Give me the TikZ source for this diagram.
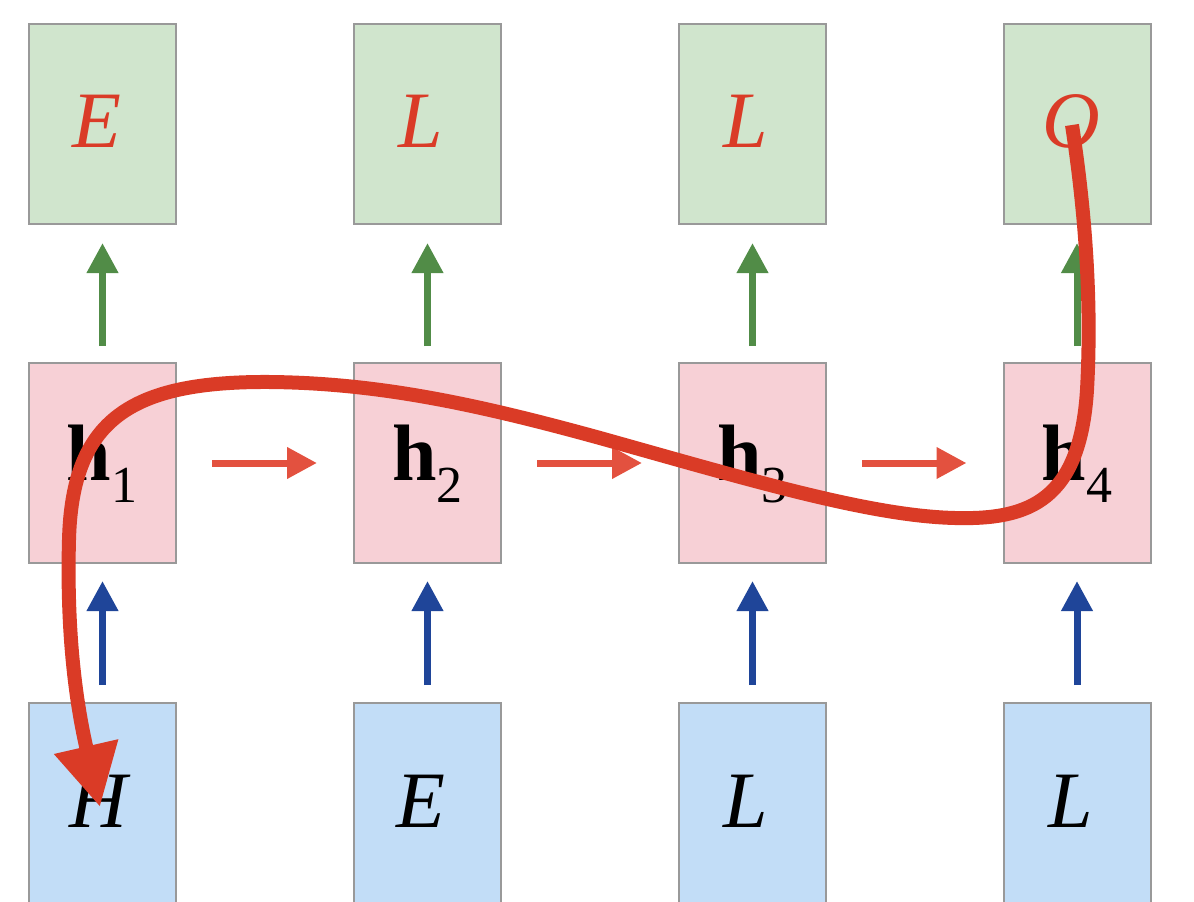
\documentclass[tikz,border=0pt]{standalone}
\usepackage{fontspec}
\setmainfont{Liberation Serif}
\usetikzlibrary{arrows.meta}
\definecolor{gfill}{HTML}{D0E5CD}
\definecolor{pfill}{HTML}{F7D0D6}
\definecolor{bfill}{HTML}{C2DDF7}
\definecolor{bord}{HTML}{999999}
\definecolor{redtxt}{HTML}{DA3B27}
\definecolor{garr}{HTML}{518C47}
\definecolor{barr}{HTML}{1F4599}
\definecolor{rarr}{HTML}{E3513F}
\definecolor{bigred}{HTML}{DA3B26}
\tikzset{
  cellbox/.style={draw=bord, line width=2pt, minimum width=147pt, minimum height=200pt, inner sep=0pt, outer sep=0pt},
  topbox/.style={cellbox, fill=gfill},
  midbox/.style={cellbox, fill=pfill},
  botbox/.style={cellbox, fill=bfill},
  lab/.style={anchor=base, inner sep=0pt, font=\fontsize{80}{80}\selectfont},
  smallarr/.style={line width=7pt, -{Triangle[length=30pt,width=30pt]}},
  grarr/.style={smallarr, draw=garr, shorten <=17pt, shorten >=19pt},
  blarr/.style={smallarr, draw=barr, shorten <=18pt, shorten >=18pt},
  rdarr/.style={smallarr, draw=rarr, shorten <=36pt, shorten >=37pt},
  bigarr/.style={line width=14pt, draw=bigred, -{Triangle[length=62pt,width=62pt]}},
}
\newcommand{\hsub}[1]{\textbf{h}\raisebox{-22pt}{\fontsize{52}{52}\selectfont #1}}
\begin{document}
\begin{tikzpicture}[x=1pt, y=-1pt]
\useasboundingbox (0,0) rectangle (1194,902);
% boxes
\foreach \i/\cx in {1/102.5, 2/427.5, 3/752.5, 4/1077} {
  \node[topbox] (t\i) at (\cx,124) {};
  \node[midbox] (m\i) at (\cx,463) {};
  \node[botbox] (b\i) at (\cx,803) {};
}
% labels
\node[lab, text=redtxt] (lt1) at (97,147) {\textit{E}};
\node[lab, text=redtxt] (lt2) at (421,147) {\textit{L}};
\node[lab, text=redtxt] (lt3) at (746,147) {\textit{L}};
\node[lab, text=redtxt] (lt4) at (1071,147) {\textit{O}};
\node[lab] (lm1) at (102,480) {\hsub{1}};
\node[lab] (lm2) at (427.5,480) {\hsub{2}};
\node[lab] (lm3) at (752.5,480) {\hsub{3}};
\node[lab] (lm4) at (1077,480) {\hsub{4}};
\node[lab] (lb1) at (100,827) {\textit{H}};
\node[lab] (lb2) at (421,827) {\textit{E}};
\node[lab] (lb3) at (746,827) {\textit{L}};
\node[lab] (lb4) at (1071,827) {\textit{L}};
% arrows
\foreach \i in {1,2,3,4} {
  \draw[grarr] (m\i.north) -- (t\i.south);
  \draw[blarr] (b\i.north) -- (m\i.south);
}
\draw[rdarr] (m1.east) -- (m2.west);
\draw[rdarr] (m2.east) -- (m3.west);
\draw[rdarr] (m3.east) -- (m4.west);
% big curve
\coordinate (cs) at (1072,125);
\coordinate (ce) at (100,807);
\draw[bigarr] (cs) .. controls (1085,210) and (1092,300) .. (1087,390)
  .. controls (1080,500) and (1030,520) .. (955,518)
  .. controls (870,516) and (750,480) .. (600,438)
  .. controls (480,405) and (380,383) .. (270,382)
  .. controls (130,381) and (72,420) .. (69,540)
  .. controls (66,650) and (80,720) .. (ce);
\end{tikzpicture}
\end{document}
